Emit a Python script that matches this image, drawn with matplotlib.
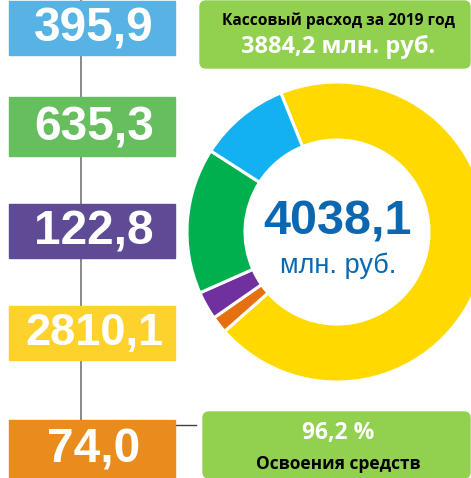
import matplotlib
matplotlib.use("Agg")
import matplotlib.pyplot as plt
from matplotlib.patches import Rectangle, FancyBboxPatch

# values per direction (млн. руб.), in the order of the boxes on the left
values = [395.9, 635.3, 122.8, 2810.1, 74.0]
box_colors = ['#56B3E3', '#66BE5E', '#5E4A95', '#FDD22C', '#E98C1D']
ring_colors = ['#14B1F1', '#00B04F', '#7030A0', '#FFD900', '#E5700F']
# order of wedges in the ring, clockwise from the top
ring_order = [3, 4, 2, 1, 0]

total_text = '4038,1'
total_unit = 'млн. руб.'
spent_title = 'Кассовый расход за 2019 год'
spent_value = '3884,2 млн. руб.'
share_value = '96,2 %'
share_title = 'Освоения средств'

W, H = 471, 478


def fmt(v):
    return f'{v:.1f}'.replace('.', ',')


fig = plt.figure(figsize=(W / 100, H / 100), dpi=100)
ax = fig.add_axes([0, 0, 1, 1])

num_font = ['Liberation Sans', 'DejaVu Sans']
cal_font = ['Open Sans', 'DejaVu Sans']

# connector lines
ax.plot([81, 81], [H, H - 420], color='#808080', lw=1.3, zorder=1)
ax.plot([175, 196], [H - 425, H - 425], color='#404040', lw=1.0, zorder=1)

# left value boxes (top pixel, height)
rows = [(1, 54), (97, 59), (204, 54), (306, 54), (420, 58)]
sizes = [34.5, 34.5, 34.5, 32.5, 34.5]
for (top, h), v, c, fs in zip(rows, values, box_colors, sizes):
    ax.add_patch(Rectangle((9, H - top - h), 166, h, color=c, zorder=2))
    ax.text(94, H - top - h / 2 - 1, fmt(v), color='white', fontsize=fs,
            fontweight='bold', family=num_font, ha='center', va='center', zorder=3)

# ring
ax.pie([values[i] for i in ring_order], colors=[ring_colors[i] for i in ring_order],
       startangle=112, counterclock=False, center=(337, H - 232), radius=150,
       wedgeprops=dict(width=58, edgecolor='white', linewidth=2.2), frame=True)
ax.set_xlim(0, W)
ax.set_ylim(0, H)
ax.set_aspect('equal')
ax.axis('off')

ax.text(337, H - 222, total_text, color='#0B68B0', fontsize=35, fontweight='bold',
        family=num_font, ha='center', va='center', zorder=4)
ax.text(338, H - 266, total_unit, color='#0B68B0', fontsize=19.5,
        family=num_font, ha='center', va='center', zorder=4)

# green info boxes
for x0, top, h in [(200, 1, 67), (203, 412, 66)]:
    ax.add_patch(FancyBboxPatch((x0 + 6, H - top - h + 6), W - x0 - 13, h - 12,
                                boxstyle='round,pad=6', color='#92D050', zorder=5))

ax.text(338, H - 21, spent_title, color='black', fontsize=11.2, fontweight='bold',
        family=cal_font, ha='center', va='center', zorder=6)
ax.text(338, H - 47, spent_value, color='white', fontsize=17, fontweight='bold',
        family=cal_font, ha='center', va='center', zorder=6)
ax.text(338, H - 433, share_value, color='white', fontsize=16.5, fontweight='bold',
        family=cal_font, ha='center', va='center', zorder=6)
ax.text(338, H - 464, share_title, color='black', fontsize=12.5, fontweight='bold',
        family=cal_font, ha='center', va='center', zorder=6)

fig.savefig('out.png', dpi=100)
